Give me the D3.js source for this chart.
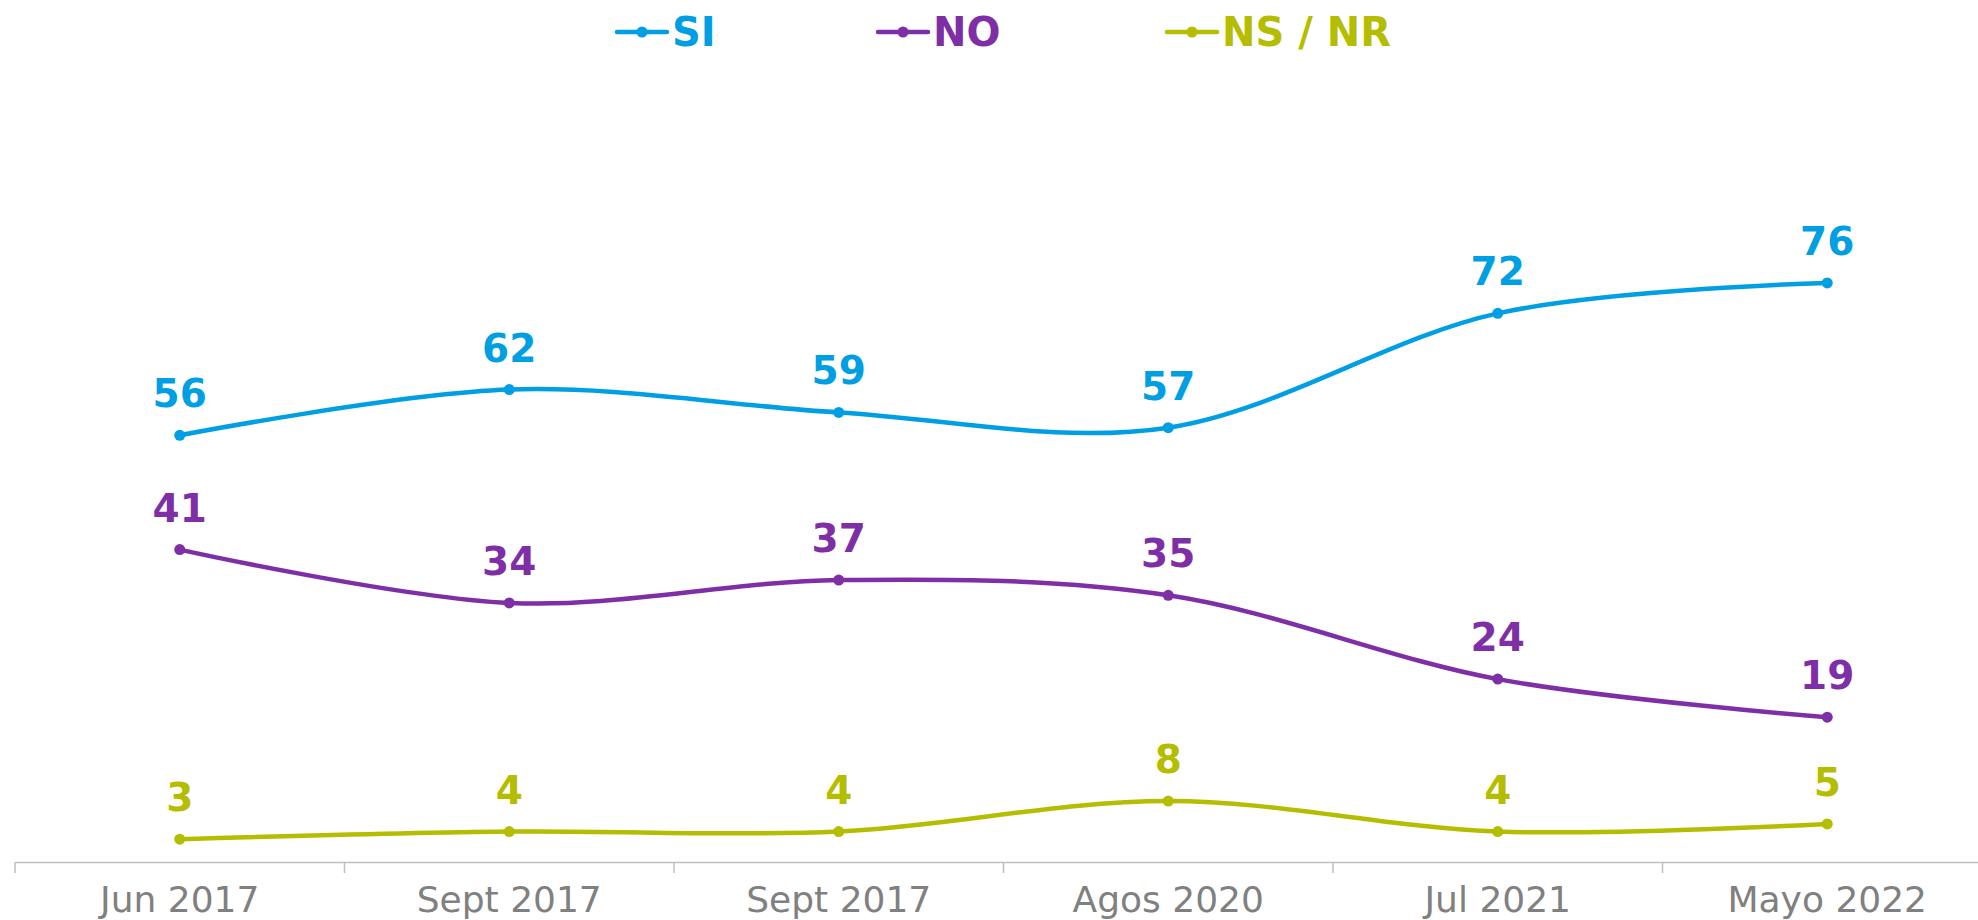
<!DOCTYPE html>
<html>
<head>
<meta charset="utf-8">
<script src="https://cdn.jsdelivr.net/npm/d3@7"></script>
<style>
  body { margin: 0; background: #fff; }
  svg { display: block; }
</style>
</head>
<body>
<svg id="chart"></svg>
<script>
// data
const categories = ["Jun 2017", "Sept 2017", "Sept 2017", "Agos 2020", "Jul 2021", "Mayo 2022"]
const siValues = [56, 62, 59, 57, 72, 76]
const noValues = [41, 34, 37, 35, 24, 19]
const nsnrValues = [3, 4, 4, 8, 4, 5]
const seriesNames = ["SI", "NO", "NS / NR"]

const width = 1978
const height = 920
const marginL = 15
const axisY = 862
const font = "'DejaVu Sans', sans-serif"

const series = [
    {name: seriesNames[0], values: siValues, color: "#009fe3"},
    {name: seriesNames[1], values: noValues, color: "#7f2fa6"},
    {name: seriesNames[2], values: nsnrValues, color: "#b5bd00"}
]

const svg = d3.select("#chart").attr("width", width).attr("height", height)

const idx = categories.map((d, i) => i)
const xScale = d3.scaleBand().domain(idx).range([marginL, marginL + 6 * 329.5])
const yScale = d3.scaleLinear().domain([0, 100]).range([axisY, 100])
const cx = i => xScale(i) + xScale.bandwidth() / 2

// x axis, labels only - ticks go on the band edges
const xAxis = d3.axisBottom(xScale).tickSize(0).tickFormat(i => categories[i])
const xAxisSVG = svg.append("g")
    .attr("transform", `translate(0, ${axisY})`)
    .call(xAxis)
xAxisSVG.select(".domain").attr("stroke", "#bfbfbf").attr("stroke-width", 1.5)
xAxisSVG.selectAll(".tick text")
    .attr("fill", "#808080")
    .attr("font-family", font)
    .attr("font-size", 36)
    .attr("dy", 0)
    .attr("y", 50)

xAxisSVG.selectAll(".edge")
    .data(idx)
    .join("line")
    .attr("class", "edge")
    .attr("x1", i => xScale(i)).attr("x2", i => xScale(i))
    .attr("y1", 0).attr("y2", 11)
    .attr("stroke", "#bfbfbf").attr("stroke-width", 1.5)

const line = d3.line()
    .x((d, i) => cx(i))
    .y(d => yScale(d))
    .curve(d3.curveCardinal.tension(0))

series.forEach(s => {
    const g = svg.append("g")
    g.append("path")
        .attr("d", line(s.values))
        .attr("fill", "none")
        .attr("stroke", s.color)
        .attr("stroke-width", 4.5)
    g.selectAll("circle")
        .data(s.values)
        .join("circle")
        .attr("cx", (d, i) => cx(i))
        .attr("cy", d => yScale(d))
        .attr("r", 5.5)
        .attr("fill", s.color)
    g.selectAll("text")
        .data(s.values)
        .join("text")
        .text(d => d)
        .attr("x", (d, i) => cx(i))
        .attr("y", d => yScale(d) - 28)
        .attr("text-anchor", "middle")
        .attr("fill", s.color)
        .attr("font-family", font)
        .attr("font-weight", "bold")
        .attr("font-size", 39)
})

// legend
const legendX = [617, 878, 1167]
const legend = svg.append("g")
series.forEach((s, i) => {
    const lg = legend.append("g").attr("transform", `translate(${legendX[i]}, 32)`)
    lg.append("line")
        .attr("x1", 0).attr("x2", 50)
        .attr("stroke", s.color).attr("stroke-width", 4.5)
        .attr("stroke-linecap", "round")
    lg.append("circle").attr("cx", 25).attr("r", 5.5).attr("fill", s.color)
    lg.append("text")
        .text(s.name)
        .attr("x", 55)
        .attr("y", 14)
        .attr("fill", s.color)
        .attr("font-family", font)
        .attr("font-weight", "bold")
        .attr("font-size", 40)
})
</script>
</body>
</html>
